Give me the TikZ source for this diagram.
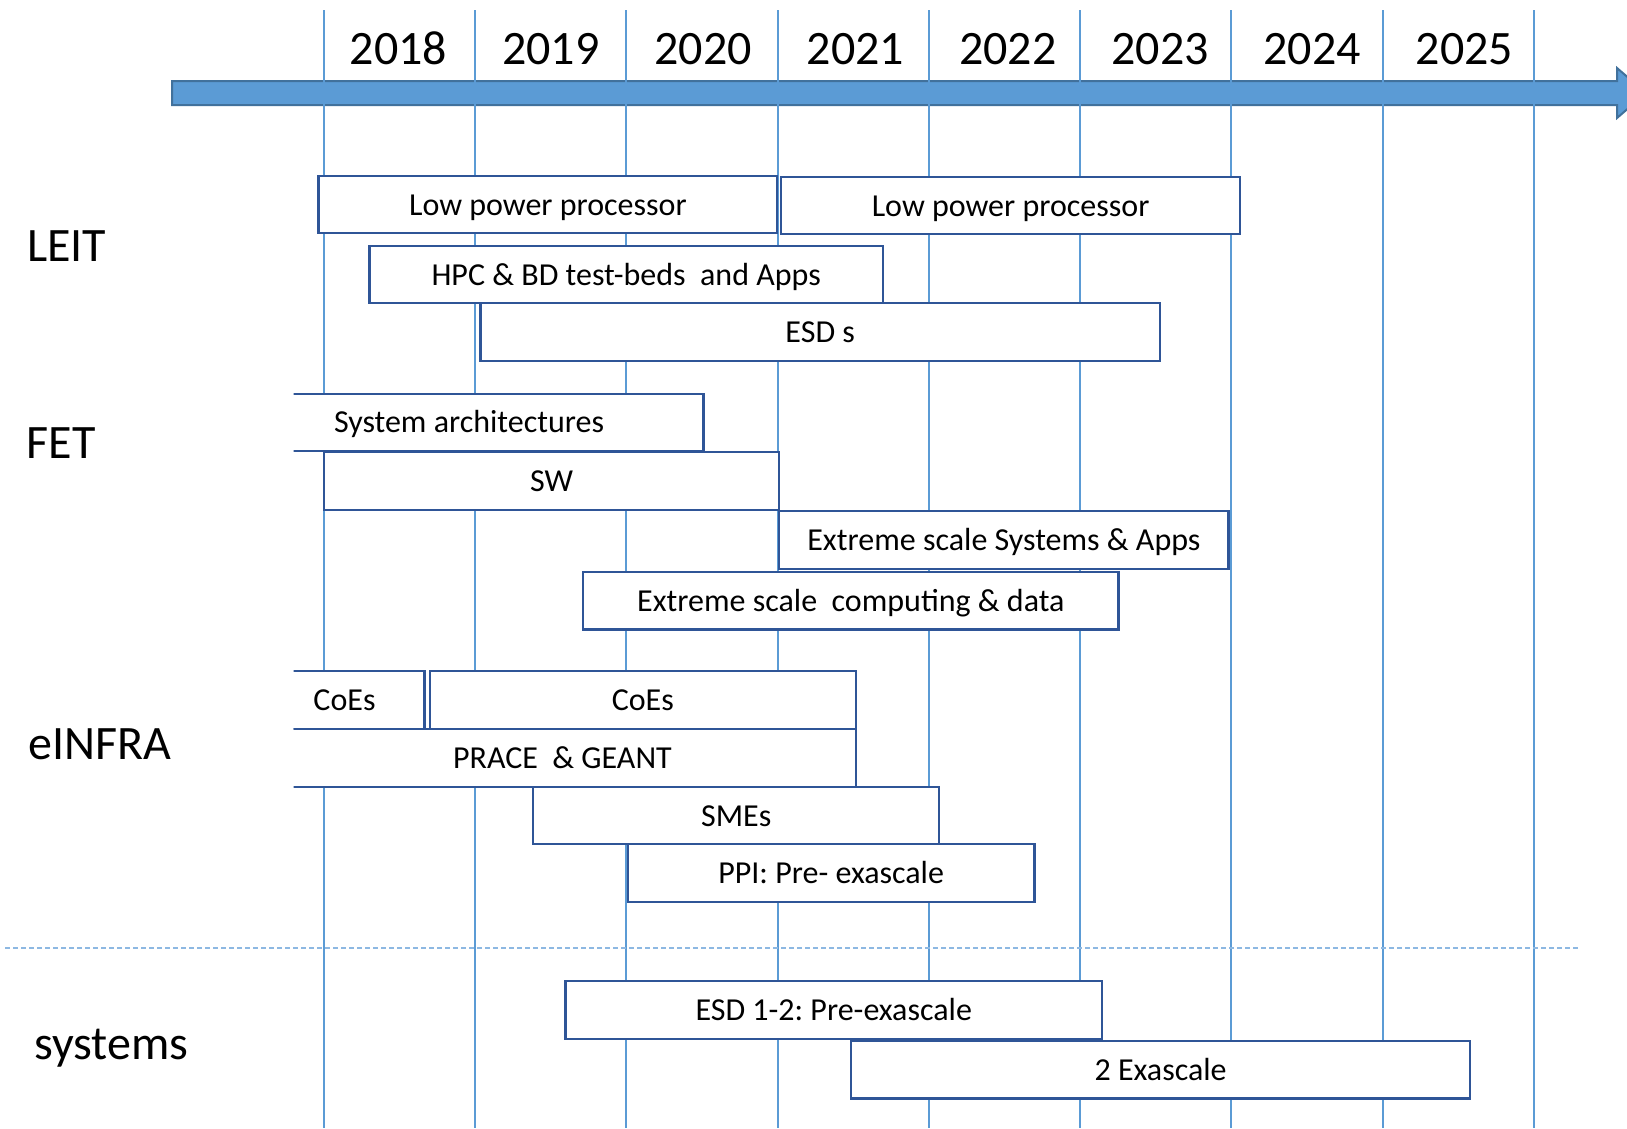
\documentclass[tikz,border=0pt]{standalone}
\usepackage{fontspec}
\setmainfont{Carlito}
\frenchspacing
\definecolor{gridblue}{HTML}{5B9BD5}
\definecolor{arrowedge}{HTML}{41719C}
\definecolor{boxblue}{HTML}{2F5597}
\definecolor{dashblue}{HTML}{8DB8E2}
\begin{document}
\begin{tikzpicture}[x=1pt,y=-1pt,
  gridline/.style={gridblue,line width=2pt},
  yearlabel/.style={font=\fontsize{48}{50}\selectfont,anchor=base,inner sep=0pt},
  rowlabel/.style={font=\fontsize{48}{50}\selectfont,anchor=base west,inner sep=0pt},
  bar/.style={draw=boxblue,fill=white,line width=2.2pt,inner sep=0pt,
    font=\fontsize{32}{34}\selectfont,text height=24.5pt,text depth=3.5pt,
    minimum height=57.5pt,rectangle}]
\useasboundingbox (0,0) rectangle (1627,1128);

% year grid
\foreach \k in {0,...,8}
  \draw[gridline] ({323.8+151.25*\k},10) -- ({323.8+151.25*\k},1128);

% time axis arrow
\path[fill=gridblue,draw=arrowedge,line width=2pt]
  (172,81) -- (1617,81) -- (1617,68) -- (1646,93) -- (1617,118)
  -- (1617,105) -- (172,105) -- cycle;
\foreach \k in {0,...,8}
  \draw[gridline] ({323.8+151.25*\k},79) -- ({323.8+151.25*\k},107);

% year labels
\foreach \y [count=\i from 0] in {2018,...,2025}
  \node[yearlabel] (y\y) at ({398.5+152.3*\i},64) {\y};

% separator of the systems row
\draw[dashblue,line width=2pt,dash pattern=on 5pt off 3pt] (5,948) -- (1580,948);

% programme labels
\node[rowlabel] (leit) at (27,261) {LEIT};
\node[rowlabel] (fet) at (26.5,458.6) {FET};
\node[rowlabel] (einfra) at (28.5,759.5) {eINFRA};
\node[rowlabel] (systems) at (34,1059) {systems};

% bars: centre x, centre y, width, name, text
\newcommand{\timebar}[5]{\node[bar,minimum width=#3pt] (#4) at (#1,#2) {#5};}
\timebar{547.9}{204.5}{458.7}{lpp1}{Low power processor}
\timebar{1010.6}{205.5}{458.6}{lpp2}{Low power processor}
\timebar{626.2}{274.5}{513.6}{hpcbd}{HPC \& BD test-beds\ \ and Apps}
\timebar{820.2}{332.0}{679.6}{esds}{ESD s}
\timebar{551.5}{481.0}{455.5}{sw}{SW}
\timebar{1003.9}{540.0}{449.3}{esa}{Extreme scale Systems \& Apps}
\timebar{850.8}{600.8}{535.4}{escd}{Extreme scale\ \ computing \& data}
\timebar{642.8}{699.9}{426.4}{coes2}{CoEs}
\timebar{736.2}{815.5}{405.7}{smes}{SMEs}
\timebar{831.1}{873.1}{406.8}{ppi}{PPI: Pre- exascale}
\timebar{833.7}{1010.1}{536.4}{esdpre}{ESD 1-2: Pre-exascale}
\timebar{1160.6}{1069.7}{619.5}{exa}{2 Exascale}

% bars that run on before the first year
\begin{scope}
  \clip (293.6,0) rectangle (1627,1128);
  \timebar{469.0}{422.4}{469.0}{sysarch}{System architectures}
  \timebar{344.5}{699.9}{159.8}{coes1}{CoEs}
  \timebar{562.4}{758.0}{587.2}{prace}{PRACE\ \ \& GEANT}
\end{scope}
\end{tikzpicture}
\end{document}
